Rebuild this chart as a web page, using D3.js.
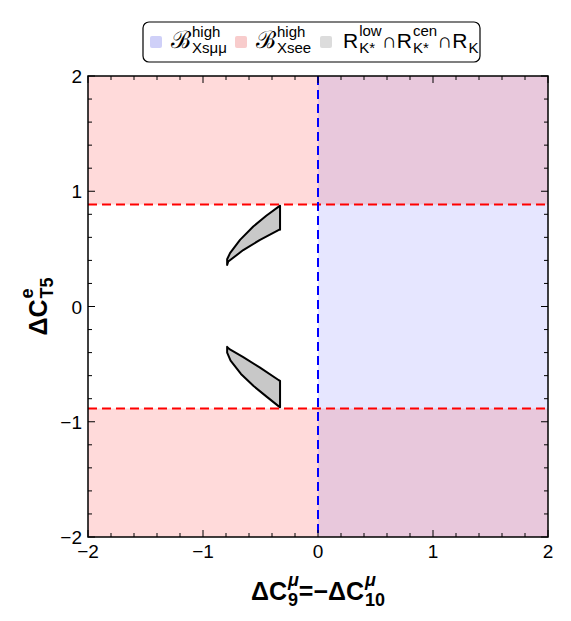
<!DOCTYPE html>
<html>
<head>
<meta charset="utf-8">
<script src="https://cdn.jsdelivr.net/npm/d3@7"></script>
<style>
  body { margin: 0; background: #fff; }
  text { font-family: "Liberation Sans", Arial, sans-serif; }
</style>
</head>
<body>
<div id="chart"></div>
<script>
// data
var xDomain = [-2, 2],
    yDomain = [-2, 2];
var majorTicks = [-2, -1, 0, 1, 2];
var minorTicks = d3.range(-2, 2.01, 0.2);
var ceLimit = 0.885;          // |dC_T5^e| bound from B(Xsee) high-q2
var c9Limit = 0;              // dC9 = -dC10 bound from B(Xsmumu)
// allowed regions from R_K* low, R_K* cen, R_K
var upperRegion = [[-0.33, 0.875], [-0.45, 0.787], [-0.563, 0.694], [-0.678, 0.578], [-0.765, 0.463],
                   [-0.79, 0.41], [-0.79, 0.36], [-0.78, 0.39], [-0.65, 0.49], [-0.504, 0.578],
                   [-0.34, 0.665], [-0.33, 0.665]];
var lowerRegion = [[-0.33, -0.875], [-0.45, -0.78], [-0.56, -0.69], [-0.67, -0.585], [-0.76, -0.47],
                   [-0.79, -0.40], [-0.79, -0.35], [-0.77, -0.37], [-0.65, -0.44], [-0.504, -0.53],
                   [-0.34, -0.64], [-0.33, -0.645]];

var W = 571, H = 621;
var margin = {top: 76, right: 23, bottom: 84, left: 88},
    width = W - margin.left - margin.right,
    height = H - margin.top - margin.bottom;

var svg = d3.select("#chart").append("svg")
    .attr("width", W)
    .attr("height", H);

var x = d3.scaleLinear().domain(xDomain).range([0, width]);
var y = d3.scaleLinear().domain(yDomain).range([height, 0]);

var chart = svg.append("g")
    .attr("transform", "translate(" + margin.left + "," + margin.top + ")");

var pink = "#ffdada", blue = "#e6e6ff", both = "#e8c8dc", grey = "#c8c8c8";

// B(Xsee) excluded bands
chart.append("rect")
    .attr("x", 0).attr("y", 0)
    .attr("width", width).attr("height", y(ceLimit))
    .attr("fill", pink);
chart.append("rect")
    .attr("x", 0).attr("y", y(-ceLimit))
    .attr("width", width).attr("height", height - y(-ceLimit))
    .attr("fill", pink);
// B(Xsmumu) excluded
chart.append("rect")
    .attr("x", x(c9Limit)).attr("y", 0)
    .attr("width", width - x(c9Limit)).attr("height", height)
    .attr("fill", blue);
// overlap
[[2, ceLimit], [-ceLimit, -2]].forEach(function(b) {
  chart.append("rect")
      .attr("x", x(c9Limit)).attr("y", y(b[0]))
      .attr("width", width - x(c9Limit)).attr("height", y(b[1]) - y(b[0]))
      .attr("fill", both);
});

var line = d3.line().x(function(d) { return x(d[0]); }).y(function(d) { return y(d[1]); })
    .curve(d3.curveLinearClosed);
[upperRegion, lowerRegion].forEach(function(r) {
  chart.append("path")
      .attr("d", line(r))
      .attr("fill", grey)
      .attr("stroke", "#000")
      .attr("stroke-width", 2)
      .attr("stroke-linejoin", "round");
});

// dashed boundaries
[ceLimit, -ceLimit].forEach(function(v) {
  chart.append("line")
      .attr("x1", 0).attr("x2", width)
      .attr("y1", y(v)).attr("y2", y(v))
      .attr("stroke", "#ff0000").attr("stroke-width", 2)
      .attr("stroke-dasharray", "9,5");
});
chart.append("line")
    .attr("x1", x(c9Limit)).attr("x2", x(c9Limit))
    .attr("y1", 0).attr("y2", height)
    .attr("stroke", "#0000ff").attr("stroke-width", 2)
    .attr("stroke-dasharray", "9,5");

// frame and ticks
chart.append("rect")
    .attr("width", width).attr("height", height)
    .attr("fill", "none").attr("stroke", "#000").attr("stroke-width", 1.5);

function isMajor(v) { return Math.abs(v - Math.round(v)) < 1e-6; }
minorTicks.forEach(function(v) {
  var L = isMajor(v) ? 7 : 4;
  chart.append("line").attr("x1", x(v)).attr("x2", x(v)).attr("y1", height).attr("y2", height - L)
      .attr("stroke", "#000").attr("stroke-width", 1);
  chart.append("line").attr("x1", x(v)).attr("x2", x(v)).attr("y1", 0).attr("y2", L)
      .attr("stroke", "#000").attr("stroke-width", 1);
  chart.append("line").attr("y1", y(v)).attr("y2", y(v)).attr("x1", 0).attr("x2", L)
      .attr("stroke", "#000").attr("stroke-width", 1);
  chart.append("line").attr("y1", y(v)).attr("y2", y(v)).attr("x1", width).attr("x2", width - L)
      .attr("stroke", "#000").attr("stroke-width", 1);
});

function fmt(v) { return v < 0 ? "\u2212" + (-v) : "" + v; }
chart.selectAll(".xl").data(majorTicks).enter().append("text")
    .attr("x", function(d) { return x(d); })
    .attr("y", height + 21)
    .attr("text-anchor", "middle")
    .attr("font-size", 19)
    .text(fmt);
chart.selectAll(".yl").data(majorTicks).enter().append("text")
    .attr("x", -6)
    .attr("y", function(d) { return y(d) + 7; })
    .attr("text-anchor", "end")
    .attr("font-size", 19)
    .text(fmt);

// base text with stacked superscript / subscript
function supsub(g, x0, y0, base, sup, sub, size, sSize, weight, bSize, supStyle) {
  var t = g.append("text").attr("x", x0).attr("y", y0).attr("font-size", bSize || size)
      .attr("font-weight", weight || "normal").text(base);
  var w = t.node().getComputedTextLength();
  var w1 = 0, w2 = 0;
  if (sup) {
    var a = g.append("text").attr("x", x0 + w + 1).attr("y", y0 - size * 0.55).attr("font-size", sSize)
        .attr("font-weight", weight || "normal").attr("font-style", supStyle || "normal").text(sup);
    w1 = a.node().getComputedTextLength();
  }
  if (sub) {
    var b = g.append("text").attr("x", x0 + w + 1).attr("y", y0 + size * 0.25).attr("font-size", sSize)
        .attr("font-weight", weight || "normal").text(sub);
    w2 = b.node().getComputedTextLength();
  }
  return x0 + w + 1 + Math.max(w1, w2);
}

// x title
var xt = svg.append("g");
var xe = supsub(xt, 0, 0, "\u0394C", "\u03bc", "9", 25, 18, "bold", null, "italic");
xe = supsub(xt, xe, 0, "=\u2212\u0394C", "\u03bc", "10", 25, 18, "bold", null, "italic");
xt.attr("transform", "translate(" + (margin.left + x(0) - xe / 2) + ",600)");

// y title
var yt = svg.append("g");
var ye = supsub(yt, 0, 0, "\u0394C", "e", "T5", 25, 18, "bold");
yt.attr("transform", "translate(47," + (margin.top + y(0) + ye / 2) + ") rotate(-90)");

// legend
var lg = svg.append("g");
lg.append("rect")
    .attr("x", 143).attr("y", 22).attr("width", 337).attr("height", 40).attr("rx", 6)
    .attr("fill", "#fff").attr("stroke", "#000").attr("stroke-width", 1.2);
var legendItems = [
  {color: "#cfd0f8", kind: "mm", x: 150},
  {color: "#f8cccc", kind: "ee", x: 235},
  {color: "#dcdcdc", kind: "R", x: 320}
];
var ly = 48;
legendItems.forEach(function(it) {
  lg.append("rect").attr("x", it.x).attr("y", ly - 12).attr("width", 12).attr("height", 12)
      .attr("rx", 2).attr("fill", it.color);
  var lx = it.x + 21;
  if (it.kind === "mm") {
    supsub(lg, lx, ly, "\u212c", "high", "Xs\u03bc\u03bc", 20, 15, null, 24);
  } else if (it.kind === "ee") {
    supsub(lg, lx, ly, "\u212c", "high", "Xsee", 20, 15, null, 24);
  } else {
    var e = supsub(lg, lx + 2, ly, "R", "low", "K*", 21, 15);
    e = supsub(lg, e, ly, "\u2229R", "cen", "K*", 21, 15);
    supsub(lg, e, ly, "\u2229R", null, "K", 21, 15);
  }
});
</script>
</body>
</html>
